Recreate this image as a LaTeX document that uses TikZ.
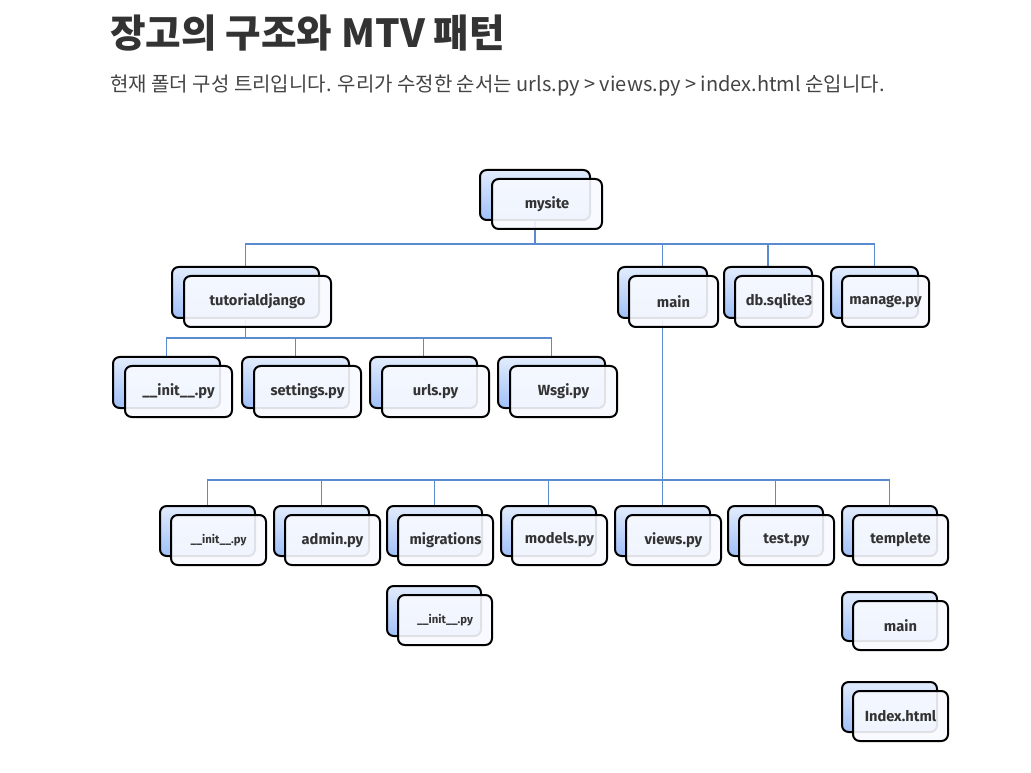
\documentclass[tikz,border=0pt]{standalone}
\usepackage{fontspec}
\usetikzlibrary{calc}
\newfontfamily\kr{Noto Sans CJK KR}
\newfontfamily\nodefont{Fira Sans}
\definecolor{conncol}{HTML}{5A8BD0}
\definecolor{backtop}{HTML}{E2ECFD}
\definecolor{backbot}{HTML}{A0C0F8}
\definecolor{frontfill}{HTML}{F8FAFF}
\definecolor{txt}{HTML}{333333}
\definecolor{subtxt}{HTML}{444444}
\pgfdeclarelayer{canvas}
\pgfdeclarelayer{background}
\pgfsetlayers{canvas,background,main}
\tikzset{
  backbox/.style={draw=black, line width=1.5pt, rounded corners=5pt, top color=backtop, bottom color=backbot, inner sep=0pt, outer sep=0pt},
  frontbox/.style={draw=black, line width=1.5pt, rounded corners=5pt, fill=frontfill, fill opacity=0.9, text opacity=1, inner sep=0pt, outer sep=0pt, font=\nodefont\bfseries\fontsize{11pt}{13pt}\selectfont, text=txt},
  conn/.style={draw=conncol, line width=1.2pt},
}
\newcommand{\docnode}[7]{% name, x, y, w, h, text, offset
  \node[backbox, minimum width={#4*0.75pt}, minimum height={#5*0.75pt}, anchor=north west] (#1) at (#2,#3) {};
  \node[frontbox, minimum width={#4*0.75pt}, minimum height={#5*0.75pt}, anchor=north west] (#1f) at ({#2+#7},{#3+9}) {#6};
}
\begin{document}
\begin{tikzpicture}[x=0.75pt,y=-0.75pt]
\begin{pgfonlayer}{canvas}
\useasboundingbox[fill=white] (0,0) rectangle (1031,773);
\end{pgfonlayer}
% titles
\node[anchor=base west, inner sep=0pt, text=txt, font=\kr\bfseries\fontsize{29pt}{33pt}\selectfont] (title) at (110,48) {장고의 구조와 MTV 패턴};
\node[anchor=base west, inner sep=0pt, text=subtxt, font=\kr\fontsize{15pt}{18pt}\selectfont] (subtitle) at (110,92) {현재 폴더 구성 트리입니다. 우리가 수정한 순서는 urls.py > views.py > index.html 순입니다.};
% row 1
\docnode{mysite}{480}{170}{110}{50}{mysite}{12}
% row 2
\docnode{tut}{172}{267}{147}{51}{tutorialdjango}{12}
\docnode{main}{618}{267}{89}{51}{main}{11}
\docnode{db}{724}{267}{88}{51}{db.sqlite3}{11}
\docnode{man}{831}{267}{87}{51}{manage.py}{11}
% row 3
\docnode{ia}{113}{357}{107}{51}{\_\_init\_\_.py}{12}
\docnode{set}{242}{357}{107}{51}{settings.py}{12}
\docnode{urls}{370}{357}{107}{51}{urls.py}{12}
\docnode{wsgi}{498}{357}{107}{51}{Wsgi.py}{12}
% row 4
\docnode{ib}{160}{506}{95}{50}{\fontsize{8.5pt}{10pt}\selectfont\_\_init\_\_.py}{11}
\docnode{adm}{274}{506}{95}{50}{admin.py}{11}
\docnode{mig}{387}{506}{95}{50}{migrations}{11}
\docnode{mod}{501}{506}{95}{50}{models.py}{11}
\docnode{views}{615}{506}{95}{50}{views.py}{11}
\docnode{test}{728}{506}{95}{50}{test.py}{11}
\docnode{tpl}{842}{506}{95}{50}{templete}{11}
% row 5
\docnode{ic}{387}{586}{94}{50}{\fontsize{8.5pt}{10pt}\selectfont\_\_init\_\_.py}{11}
\docnode{tmain}{842}{592}{95}{49}{main}{11}
\docnode{idx}{842}{682}{95}{50}{Index.html}{11}
% connectors
\coordinate (bus1) at (0,244);
\coordinate (bus2) at (0,338);
\coordinate (bus3) at (0,480);
\begin{pgfonlayer}{background}
\foreach \c in {tut,main,db,man}
  \draw[conn] (mysite.south) -- (mysite.south |- bus1) -| (\c.north);
\foreach \c in {ia,set,urls,wsgi}
  \draw[conn] (tut.south) -- (tut.south |- bus2) -| (\c.north);
\foreach \c in {ib,adm,mig,mod,views,test,tpl}
  \draw[conn] (main.south) -- (main.south |- bus3) -| (\c.north);
\end{pgfonlayer}
\end{tikzpicture}
\end{document}
